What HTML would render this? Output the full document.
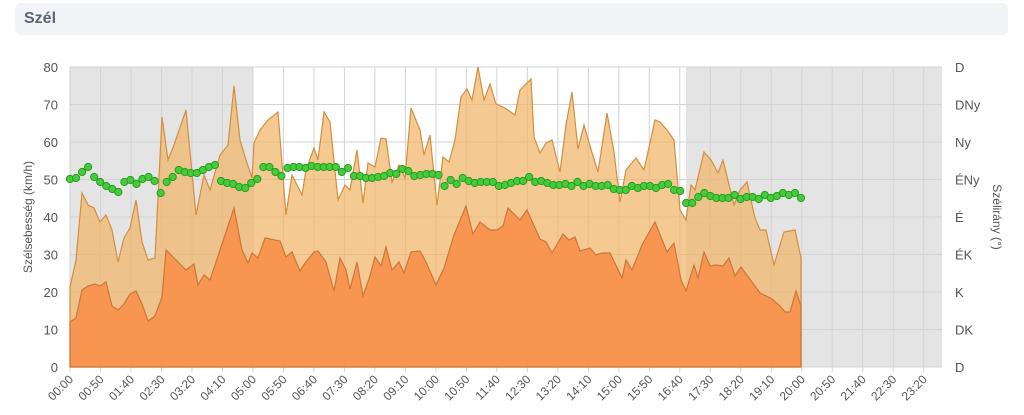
<!DOCTYPE html>
<html><head><meta charset="utf-8"><style>
body{margin:0;background:#fff;width:1024px;height:415px;overflow:hidden;font-family:"Liberation Sans",sans-serif}
.hdr{position:absolute;left:15px;top:3px;width:993px;height:32px;background:#f3f4f7;border-radius:6px}
.hdr span{position:absolute;left:9px;top:7px;font-weight:bold;font-size:16px;color:#5b6272}
svg{position:absolute;left:0;top:0}
</style></head><body>
<div class="hdr"><span>Szél</span></div>
<svg width="1024" height="415" id="s">
<rect x="70" y="67" width="183" height="300" fill="#e4e4e4"/>
<rect x="686" y="67" width="256" height="300" fill="#e4e4e4"/>
<g id="grid" stroke="#d3d3d3" stroke-width="1"></g>
<polygon id="gust" fill="#f0b468" fill-opacity="0.72" stroke="#d48e3e" stroke-width="1.2"/>
<polygon id="mean" fill="#f7914c" fill-opacity="0.92" stroke="#c9773a" stroke-width="1.2"/>
<g id="dots"></g>
<g id="lab" font-size="13" fill="#555"></g>
<text transform="translate(32,217) rotate(-90)" text-anchor="middle" font-size="12" fill="#555">Szélsebesség (km/h)</text>
<text transform="translate(993,217) rotate(90)" text-anchor="middle" font-size="12" fill="#555">Szélirány (°)</text>
</svg>
<script>
var ns="http://www.w3.org/2000/svg",g=document.getElementById('grid'),lab=document.getElementById('lab');
function el(t,a,p){var e=document.createElementNS(ns,t);for(var k in a)e.setAttribute(k,a[k]);p.appendChild(e);return e;}
var dirs=["D","DK","K","ÉK","É","ÉNy","Ny","DNy","D"];
for(var i=0;i<=8;i++){var y=367-i*37.5;el('line',{x1:70,x2:942,y1:y,y2:y},g);
var t=el('text',{x:58,y:y+5,'text-anchor':'end'},lab);t.textContent=i*10;
var r=el('text',{x:955,y:y+5},lab);r.textContent=dirs[i];}
for(var i=0;i<=28;i++){var x=70+i*30.49;el('line',{x1:x,x2:x,y1:67,y2:372},g);
var m=i*50,h=Math.floor(m/60),mm=m%60,s=(h<10?'0':'')+h+':'+(mm<10?'0':'')+mm;
var t=el('text',{transform:'translate('+(x+4)+',380) rotate(-45)','text-anchor':'end','font-size':'12'},lab);t.textContent=s;}
var gust=[70,287,76,260,82,193,88,205,94,208,100,222,106,215,112,230,118,262,124,238,130,228,136,200,142,242,148,260,155,258,162,117,168,160,174,145,186,110,196,215,204,175,210,190,220,155,228,145,234,86,240,140,246,160,252,178,254,143,260,130,268,120,278,112,286,215,292,175,302,195,306,170,314,148,318,160,324,112,330,122,338,200,345,185,350,190,357,150,363,203,368,163,375,167,381,138,386,139,392,182,399,165,405,178,411,108,420,130,424,155,430,135,437,205,443,157,449,162,455,140,461,97,467,89,472,100,478,67,484,100,490,84,496,104,505,108,515,115,520,90,531,79,534,137,540,153,546,143,552,140,560,172,566,125,572,92,578,149,584,125,590,146,598,172,607,113,614,152,620,202,626,170,636,158,644,170,655,120,660,122,667,130,674,140,680,210,686,220,691,185,695,190,704,152,711,160,718,173,723,160,734,205,740,190,747,182,755,218,760,230,766,230,774,265,784,232,795,230,801,258];
var mean=[70,322,76,318,82,290,88,286,95,284,100,286,106,282,112,306,118,310,124,304,130,294,136,291,142,304,148,321,155,316,162,297,166,250,178,262,186,270,194,264,198,285,204,275,210,280,220,250,234,208,242,250,248,263,252,253,258,258,265,238,280,241,286,257,292,252,300,271,305,263,314,252,318,251,326,262,334,291,340,258,346,270,350,289,357,262,363,296,370,276,375,257,381,266,386,247,392,270,399,262,404,273,411,252,420,251,426,262,436,285,444,268,454,235,466,206,473,234,480,222,490,230,497,230,503,226,508,208,514,214,520,220,527,210,540,239,546,242,552,253,563,234,569,240,575,237,580,251,590,248,596,255,602,253,610,253,622,278,626,260,632,270,642,245,655,222,667,252,674,243,681,280,686,291,694,265,698,278,704,252,710,266,716,265,723,266,729,258,735,276,741,267,752,282,760,293,772,299,780,306,785,312,790,312,796,291,801,306];
function poly(a){var s=[];for(var i=0;i<a.length;i+=2)s.push(a[i]+','+a[i+1]);return '70,367 '+s.join(' ')+' 801,367';}
document.getElementById('gust').setAttribute('points',poly(gust));
document.getElementById('mean').setAttribute('points',poly(mean));
var dy=[179,178,172,167,177,182,186,189,192,182,180,184,179,177,181,193,182,177,170,172,173,173,170,167,165,181,183,184,187,188,183,179,167,167,172,176,168,167,167,168,166,167,167,167,167,172,168,176,176,178,178,177,176,173,174,169,171,176,175,174,174,175,186,180,184,178,181,183,182,182,182,186,185,183,181,181,177,182,181,183,185,185,184,186,182,186,184,186,186,185,189,190,190,186,188,186,186,188,185,184,190,191,203,203,197,193,196,198,198,198,195,199,197,197,199,195,198,196,193,195,193,198];
var d=document.getElementById('dots'),n=dy.length;
for(var i=0;i<n;i++){var x=70+i*(731/(n-1));el('circle',{cx:x,cy:dy[i],r:3.6,fill:'#44cc3a',stroke:'#2a9a22','stroke-width':1},d);}
</script>
</body></html>
